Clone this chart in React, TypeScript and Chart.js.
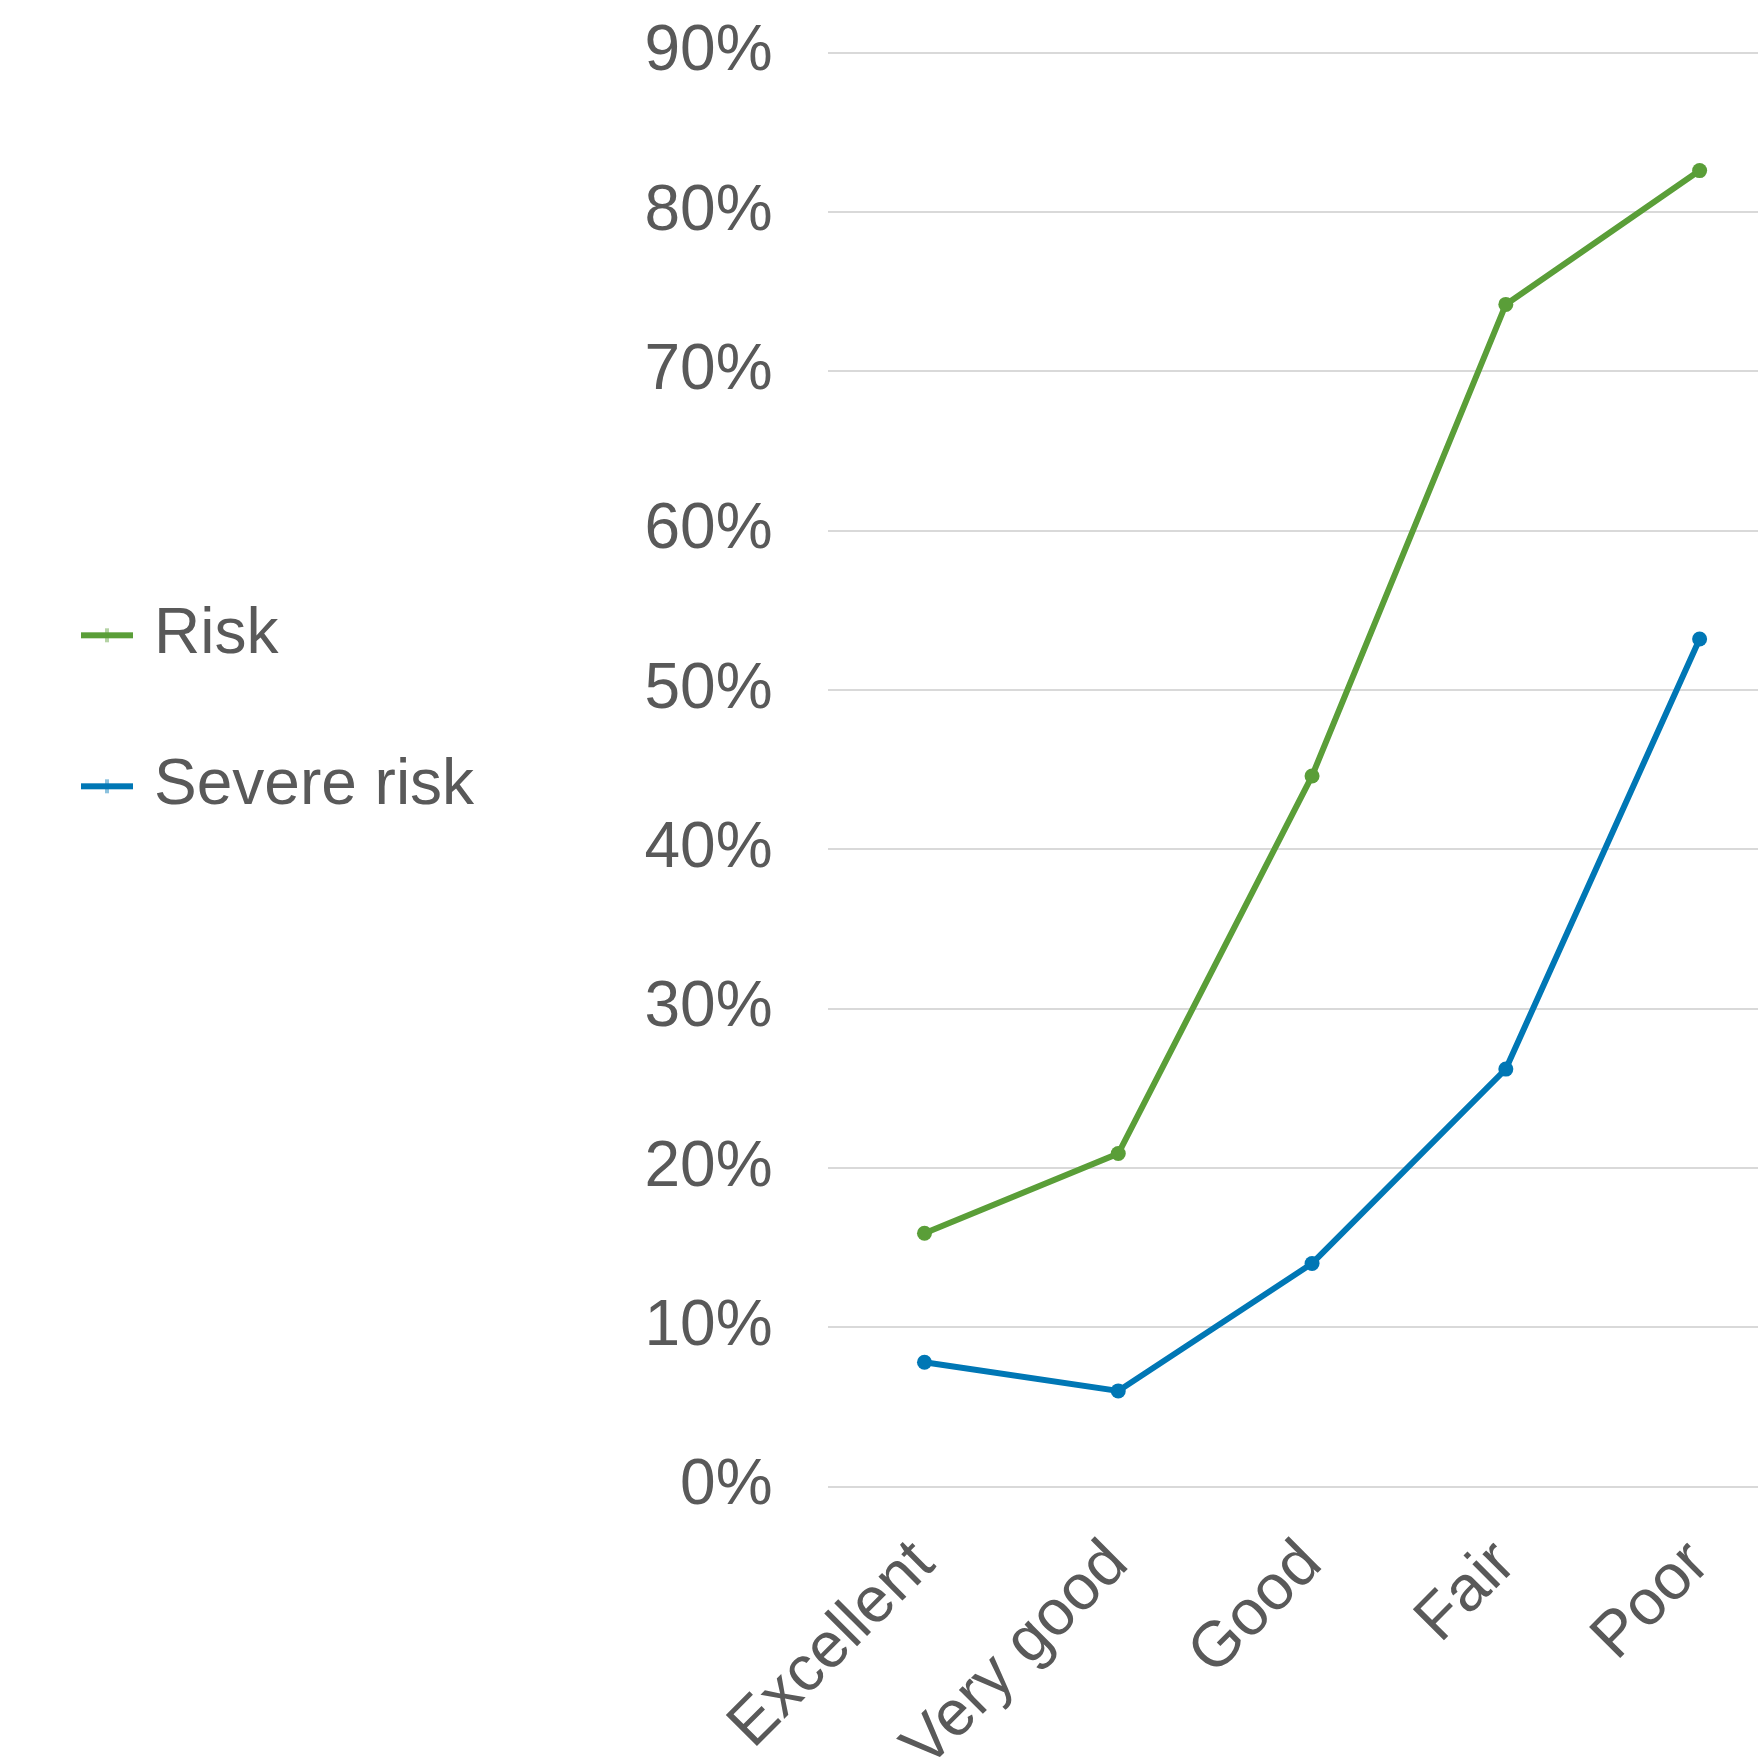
import React, { useEffect, useRef } from "react";
import { Chart, registerables } from "chart.js";

Chart.register(...registerables);

const categories = ["Excellent", "Very good", "Good", "Fair", "Poor"];
const seriesNames = ["Risk", "Severe risk"];
const riskValues = [15.9, 20.9, 44.6, 74.2, 82.6];
const severeRiskValues = [7.8, 6.0, 14.0, 26.2, 53.2];
const seriesColors = ["#5A9E38", "#0077B5"];
const yMin = 0;
const yMax = 90;
const yStep = 10;

function makeLegendSymbol(color: string): HTMLCanvasElement {
  const c = document.createElement("canvas");
  c.width = 52;
  c.height = 16;
  const ctx = c.getContext("2d")!;
  ctx.fillStyle = color;
  ctx.fillRect(0, 5, 52, 6);
  ctx.globalAlpha = 0.45;
  ctx.fillRect(24, 1, 4, 14);
  return c;
}

export default function App() {
  const ref = useRef<HTMLCanvasElement>(null);

  useEffect(() => {
    const family = "'Liberation Sans', Arial, Helvetica, sans-serif";
    const textColor = "#595959";
    const symbols = seriesColors.map(makeLegendSymbol);
    const chart = new Chart(ref.current!, {
      type: "line",
      data: {
        labels: categories,
        datasets: [
          {
            label: seriesNames[0],
            data: riskValues,
            borderColor: seriesColors[0],
            backgroundColor: seriesColors[0],
            pointBackgroundColor: seriesColors[0],
            pointBorderColor: seriesColors[0],
            borderWidth: 6,
            pointRadius: 7.5,
            pointBorderWidth: 0,
            tension: 0,
          },
          {
            label: seriesNames[1],
            data: severeRiskValues,
            borderColor: seriesColors[1],
            backgroundColor: seriesColors[1],
            pointBackgroundColor: seriesColors[1],
            pointBorderColor: seriesColors[1],
            borderWidth: 6,
            pointRadius: 7.5,
            pointBorderWidth: 0,
            tension: 0,
          },
        ],
      },
      options: {
        responsive: false,
        maintainAspectRatio: false,
        animation: false,
        layout: { padding: { top: 52.7, left: 0, right: 0, bottom: 0 } },
        plugins: {
          tooltip: { enabled: false },
          legend: {
            position: "left",
            align: "start",
            maxWidth: 480,
            title: {
              display: true,
              text: " ",
              font: { size: 10, lineHeight: 1.2 },
              padding: { top: 451.6, bottom: 0 },
            },
            labels: {
              font: { family, size: 64 },
              color: textColor,
              usePointStyle: true,
              boxWidth: 30,
              boxHeight: 16,
              padding: 87,
              generateLabels: (c: any) =>
                (Chart as any).defaults.plugins.legend.labels
                  .generateLabels(c)
                  .map((l: any, i: number) => ({ ...l, pointStyle: symbols[i], lineWidth: 0 })),
            },
          },
        },
        scales: {
          x: {
            offset: true,
            ticks: {
              minRotation: 45,
              maxRotation: 45,
              autoSkip: false,
              font: { family, size: 64 },
              color: textColor,
              padding: 40,
            },
            grid: { display: false, drawTicks: false },
            border: { display: false },
            afterFit: (s: any) => {
              s.height = 313.5;
              s.paddingLeft = 0;
              s.paddingRight = 0;
            },
          },
          y: {
            min: yMin,
            max: yMax,
            ticks: {
              stepSize: yStep,
              callback: (v: any) => v + "%",
              font: { family, size: 64 },
              color: textColor,
              padding: 55,
            },
            grid: { color: "#d9d9d9", lineWidth: 2, drawTicks: false },
            border: { display: false },
            afterFit: (s: any) => {
              s.width = 343.5;
              s.paddingTop = 0;
              s.paddingBottom = 0;
            },
          },
        },
      },
    } as any);
    return () => chart.destroy();
  }, []);

  return (
    <div
      style={{
        position: "fixed",
        left: 0,
        top: 0,
        width: 1758,
        height: 1759,
        overflow: "hidden",
        background: "#ffffff",
      }}
    >
      <canvas
        ref={ref}
        width={1799}
        height={1800}
        style={{ position: "absolute", left: 5, top: 0, width: 1799, height: 1800 }}
      />
    </div>
  );
}
